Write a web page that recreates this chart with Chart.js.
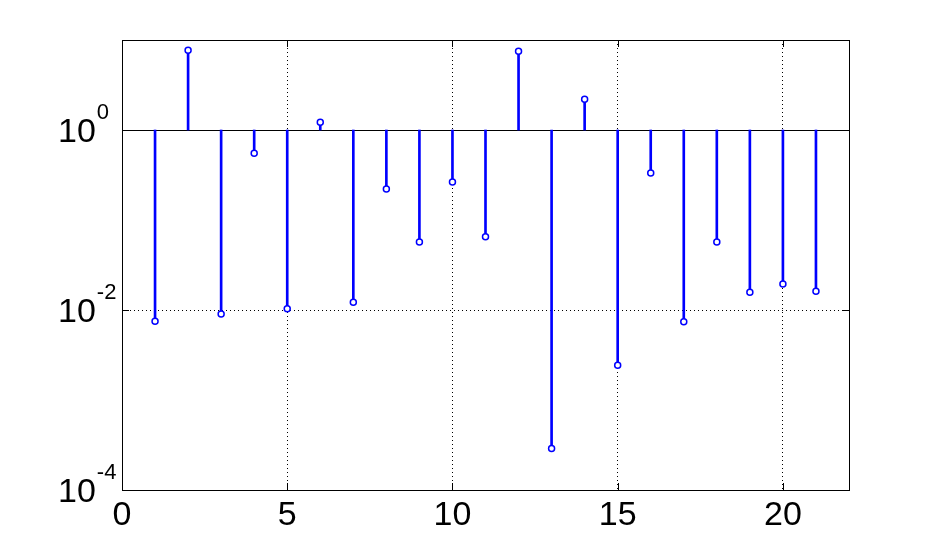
<!DOCTYPE html>
<html>
<head>
<meta charset="utf-8">
<script src="https://cdn.jsdelivr.net/npm/chart.js@4/dist/chart.umd.min.js"></script>
<style>
body { margin: 0; background: #fff; }
#wrap { width: 938px; height: 551px; }
</style>
</head>
<body>
<div id="wrap"><canvas id="stem" width="938" height="551"></canvas></div>
<script>
// stem data
var xValues = [1, 2, 3, 4, 5, 6, 7, 8, 9, 10, 11, 12, 13, 14, 15, 16, 17, 18, 19, 20, 21];
var yValues = [0.0075, 7.7, 0.0090, 0.55, 0.0103, 1.22, 0.0122, 0.221, 0.057, 0.264, 0.065,
               7.5, 0.00029, 2.19, 0.00243, 0.333, 0.0074, 0.057, 0.0157, 0.0195, 0.0162];
var baseValue = 1;
var xTicks = [0, 5, 10, 15, 20];
var yTicks = [1e-4, 1e-2, 1];
var yExponents = ['-4', '-2', '0'];

var fontFamily = '"Liberation Sans", Arial, Helvetica, sans-serif';
var blue = '#0000ff';

var stems = [];
var heads = [];
for (var i = 0; i < xValues.length; i++) {
    stems.push({ x: xValues[i], y: [baseValue, yValues[i]] });
    heads.push({ x: xValues[i], y: yValues[i] });
}

// baseline, box, inward ticks and the 10^n labels
var stemFrame = {
    id: 'stemFrame',
    beforeDatasetsDraw: function(chart) {
        var ctx = chart.ctx;
        var area = chart.chartArea;
        var yb = Math.round(chart.scales.y.getPixelForValue(baseValue)) + 0.5;
        ctx.save();
        ctx.strokeStyle = '#000';
        ctx.lineWidth = 1;
        ctx.beginPath();
        ctx.moveTo(area.left, yb);
        ctx.lineTo(area.right, yb);
        ctx.stroke();
        ctx.restore();
    },
    afterDraw: function(chart) {
        var ctx = chart.ctx;
        var area = chart.chartArea;
        var xs = chart.scales.x;
        var ys = chart.scales.y;
        var tl = 7;
        ctx.save();
        ctx.strokeStyle = '#000';
        ctx.lineWidth = 1;
        ctx.strokeRect(area.left + 0.5, area.top + 0.5, area.right - area.left, area.bottom - area.top);

        ctx.beginPath();
        for (var i = 0; i < xTicks.length; i++) {
            var px = Math.round(xs.getPixelForValue(xTicks[i])) + 0.5;
            ctx.moveTo(px, area.bottom);
            ctx.lineTo(px, area.bottom - tl);
            ctx.moveTo(px, area.top);
            ctx.lineTo(px, area.top + tl);
        }
        for (var j = 0; j < yTicks.length; j++) {
            var py = Math.round(ys.getPixelForValue(yTicks[j])) + 0.5;
            ctx.moveTo(area.left, py);
            ctx.lineTo(area.left + tl, py);
            ctx.moveTo(area.right, py);
            ctx.lineTo(area.right - tl, py);
        }
        ctx.stroke();

        ctx.fillStyle = '#000';
        ctx.textAlign = 'left';
        ctx.textBaseline = 'alphabetic';
        for (var k = 0; k < yTicks.length; k++) {
            var y = ys.getPixelForValue(yTicks[k]);
            ctx.font = '34px ' + fontFamily;
            var w = ctx.measureText('10').width;
            ctx.fillText('10', 58, y + 12);
            ctx.font = '22px ' + fontFamily;
            ctx.fillText(yExponents[k], 58 + w + 1, y - 11.5);
        }
        ctx.restore();
    }
};

var ctx = document.getElementById('stem').getContext('2d');
var chart = new Chart(ctx, {
    type: 'bar',
    data: {
        datasets: [{
            type: 'scatter',
            data: heads,
            order: 0,
            showLine: false,
            pointRadius: 3,
            pointHoverRadius: 3,
            pointBorderWidth: 1.5,
            pointBorderColor: blue,
            pointBackgroundColor: '#fff'
        }, {
            type: 'bar',
            data: stems,
            order: 1,
            backgroundColor: blue,
            borderWidth: 0,
            barThickness: 2,
            grouped: false
        }]
    },
    options: {
        responsive: false,
        animation: false,
        layout: { padding: { top: 40, right: 89, left: 0, bottom: 0 } },
        plugins: {
            legend: { display: false },
            tooltip: { enabled: false }
        },
        scales: {
            x: {
                type: 'linear',
                position: 'bottom',
                min: 0,
                max: 22,
                offset: false,
                grid: {
                    offset: false,
                    color: '#000',
                    lineWidth: function(c) { return c.tick && c.tick.value === 0 ? 0 : 1; },
                    drawTicks: false
                },
                border: { display: false, dash: [1, 3] },
                ticks: {
                    stepSize: 5,
                    includeBounds: false,
                    autoSkip: false,
                    maxRotation: 0,
                    padding: 5,
                    color: '#000',
                    font: { family: fontFamily, size: 34 }
                },
                afterFit: function(s) { s.height = 61; }
            },
            y: {
                type: 'logarithmic',
                min: 1e-4,
                max: 10,
                afterBuildTicks: function(s) {
                    s.ticks = yTicks.map(function(v) { return { value: v }; });
                },
                grid: { color: '#000', lineWidth: 1, drawTicks: false },
                border: { display: false, dash: [1, 3] },
                ticks: { display: false },
                afterFit: function(s) { s.width = 122; }
            }
        }
    },
    plugins: [stemFrame]
});
</script>
</body>
</html>
